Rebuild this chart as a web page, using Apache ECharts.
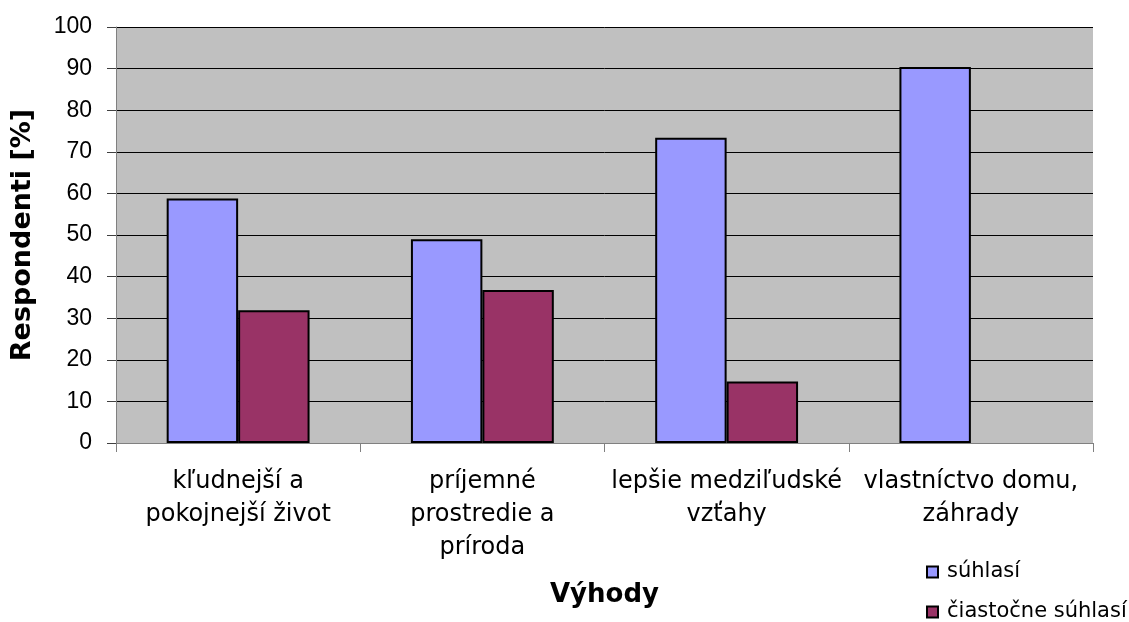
<!DOCTYPE html>
<html>
<head>
<meta charset="utf-8">
<script src="https://cdn.jsdelivr.net/npm/echarts@6/dist/echarts.min.js"></script>
<style>
html, body { margin: 0; padding: 0; background: #fff; }
#chart { width: 1129px; height: 622px; }
</style>
</head>
<body>
<div id="chart"></div>
<script>
var categories = ['kľudnejší a\npokojnejší život', 'príjemné\nprostredie a\npríroda', 'lepšie medziľudské\nvzťahy', 'vlastníctvo domu,\nzáhrady'];
var suhlasi = [58.8, 49.0, 73.4, 90.4];
var ciastocne = [31.9, 36.8, 14.8, '-'];

var myChart = echarts.init(document.getElementById('chart'));
var option = {
    animation: false,
    backgroundColor: '#ffffff',
    legend: {
        orient: 'vertical',
        left: 926,
        top: 561,
        height: 80,
        padding: 0,
        itemGap: 18,
        itemWidth: 11,
        itemHeight: 11,
        icon: 'rect',
        itemStyle: { borderColor: '#000', borderWidth: 2 },
        textStyle: { fontFamily: 'DejaVu Sans', fontSize: 21, lineHeight: 22, color: '#000', padding: [0, 0, 0, 4] },
        data: ['súhlasí', 'čiastočne súhlasí']
    },
    grid: {
        left: 116,
        right: 36,
        top: 27,
        bottom: 179,
        show: true,
        backgroundColor: '#c0c0c0',
        borderWidth: 0
    },
    xAxis: {
        type: 'category',
        data: categories,
        name: 'Výhody',
        nameLocation: 'middle',
        nameGap: 139,
        nameTextStyle: { fontFamily: 'DejaVu Sans', fontSize: 26, fontWeight: 'bold', color: '#000' },
        axisLine: { lineStyle: { color: '#808080', width: 1 } },
        axisTick: { show: true, length: 9, lineStyle: { color: '#808080' } },
        axisLabel: {
            interval: 0,
            margin: 22,
            fontFamily: 'DejaVu Sans',
            fontSize: 24,
            lineHeight: 33,
            color: '#000'
        }
    },
    yAxis: {
        type: 'value',
        min: 0,
        max: 100,
        interval: 10,
        name: 'Respondenti [%]',
        nameLocation: 'middle',
        nameRotate: 90,
        nameGap: 80,
        nameTextStyle: { fontFamily: 'DejaVu Sans', fontSize: 27, fontWeight: 'bold', color: '#000' },
        axisLine: { show: true, lineStyle: { color: '#808080', width: 1 } },
        axisTick: { show: true, length: 9, lineStyle: { color: '#404040' } },
        axisLabel: { margin: 24, fontFamily: 'Liberation Sans', fontSize: 23, color: '#000' },
        splitLine: { lineStyle: { color: '#000', width: 1 } }
    },
    series: [
        {
            name: 'súhlasí',
            type: 'bar',
            barGap: '0%',
            barCategoryGap: '41.5%',
            itemStyle: { color: '#9999ff', borderColor: '#000', borderWidth: 2 },
            data: suhlasi
        },
        {
            name: 'čiastočne súhlasí',
            type: 'bar',
            barGap: '0%',
            barCategoryGap: '41.5%',
            itemStyle: { color: '#993366', borderColor: '#000', borderWidth: 2 },
            data: ciastocne
        }
    ]
};
myChart.setOption(option);
</script>
</body>
</html>
